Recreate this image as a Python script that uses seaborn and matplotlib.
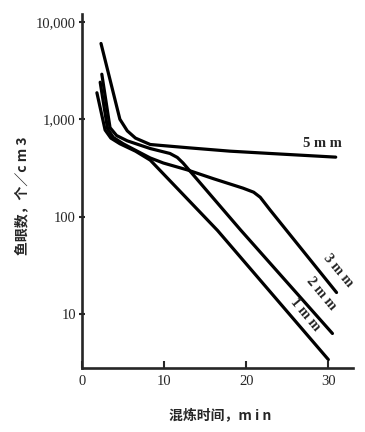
import numpy as np
import pandas as pd
import seaborn as sns
import matplotlib
matplotlib.use('Agg')
import matplotlib.pyplot as plt

# curves: mixing time (min) vs fish-eye count (per cm3)
t_5mm = [2.3, 4.6, 5.5, 6.5, 8.3, 13.2, 18.0, 22.9, 30.9]
c_5mm = [6000, 1000, 760, 640, 550, 507, 470, 445, 408]

t_3mm = [2.2, 3.1, 3.8, 5.0, 6.5, 8.3, 9.9, 12.8, 16.0, 19.6, 20.9, 21.7, 22.9, 31.0]
c_3mm = [2400, 800, 650, 560, 480, 400, 355, 302, 245, 196, 178, 158, 117, 16.6]

t_2mm = [2.4, 3.4, 4.2, 5.5, 8.3, 10.7, 11.6, 12.3, 19.3, 30.5]
c_2mm = [2900, 820, 680, 600, 500, 445, 405, 355, 73, 6.3]

t_1mm = [1.8, 2.8, 3.5, 4.6, 6.5, 8.3, 16.5, 30.0]
c_1mm = [1870, 775, 640, 560, 470, 380, 72, 3.4]

sizes = ['5 m m', '3 m m', '2 m m', '1 m m']
ytick_vals = [10, 100, 1000, 10000]
ytick_text = ['10', '100', '1,000', '10,000']
xtick_vals = [0, 10, 20, 30]

frames = []
for name, t, c in zip(sizes, [t_5mm, t_3mm, t_2mm, t_1mm], [c_5mm, c_3mm, c_2mm, c_1mm]):
    frames.append(pd.DataFrame({'time': t, 'count': c, 'size': name}))
df = pd.concat(frames, ignore_index=True)

sns.set_style('ticks')
plt.rcParams['font.family'] = ['Liberation Serif', 'Noto Sans CJK SC', 'DejaVu Sans']

fig = plt.figure(figsize=(3.65, 4.32), dpi=100)
ax = fig.add_axes([0.225, 0.148, 0.742, 0.82])

sns.lineplot(data=df, x='time', y='count', hue='size', units='size',
             palette=['black'] * 4, sort=False, estimator=None,
             legend=False, linewidth=2.3, ax=ax)

ax.set_yscale('log')
ax.set_xlim(0, 33)
ax.set_ylim(2.78, 12100)
ax.set_yticks(ytick_vals)
ax.set_yticklabels(ytick_text)
ax.minorticks_off()
ax.set_xticks(xtick_vals)

for s in ['top', 'right']:
    ax.spines[s].set_visible(False)
for s in ['left', 'bottom']:
    ax.spines[s].set_linewidth(1.9)

ax.tick_params(axis='y', direction='inout', length=5, width=1.5, pad=2, labelsize=10.5)
ax.tick_params(axis='x', direction='in', length=5, width=1.5, pad=5, labelsize=10.5)

cjk = ['Noto Sans CJK SC', 'DejaVu Sans']
ax.set_xlabel('')
ax.set_ylabel('')
fig.text(220 / 365, 1 - 415 / 432, '混炼时间，m i n', family=cjk, fontsize=10,
         fontweight='bold', ha='center', va='center')
fig.text(22 / 365, 1 - 196 / 432, '鱼眼数，个／c m 3', family=cjk, fontsize=10,
         fontweight='bold', ha='center', va='center', rotation=90)

lab = dict(family=['Liberation Serif'], fontsize=10.5, fontweight='bold', ha='center', va='center')
ax.text(29.3, 570, '5 m m', **lab)
ax.text(31.2, 28, '3 m m', rotation=-50, **lab)
ax.text(29.1, 16, '2 m m', rotation=-50, **lab)
ax.text(27.2, 9.8, '1 m m', rotation=-50, **lab)

fig.savefig('out.png', dpi=100)
